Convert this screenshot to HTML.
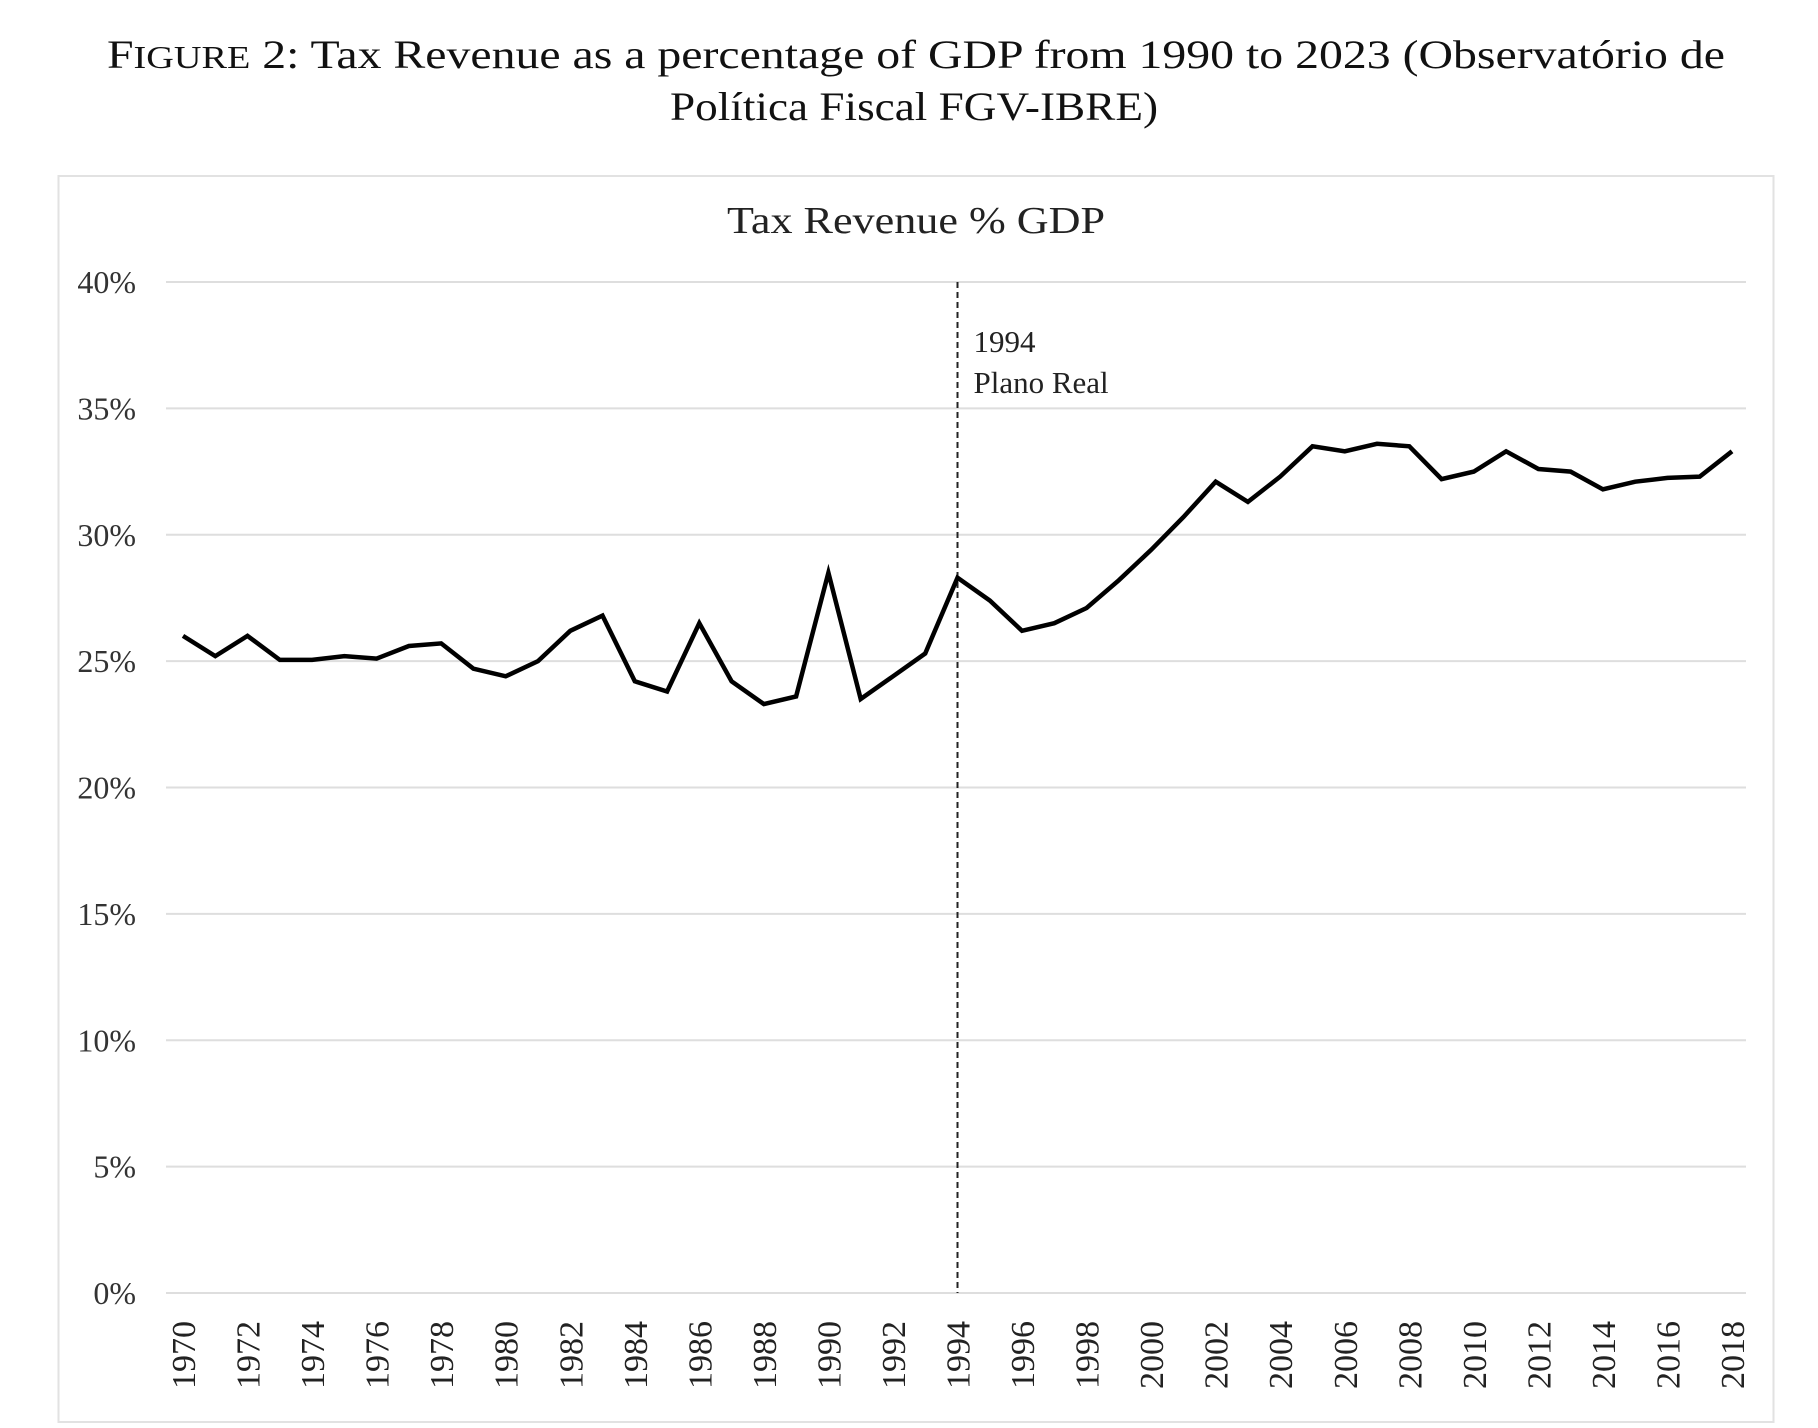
<!DOCTYPE html>
<html><head><meta charset="utf-8"><style>
html,body{margin:0;padding:0;background:#fff;}
svg{display:block;font-family:"Liberation Serif",serif;}
</style></head><body>
<svg id="chart" width="1818" height="1428" viewBox="0 0 1818 1428" xmlns="http://www.w3.org/2000/svg">
<text x="107" y="68" font-size="40" textLength="1618" lengthAdjust="spacingAndGlyphs" fill="#111">F<tspan font-size="32">IGURE</tspan> 2: Tax Revenue as a percentage of GDP from 1990 to 2023 (Observatório de</text>
<text x="670" y="120" font-size="40" textLength="488" lengthAdjust="spacingAndGlyphs" fill="#111">Política Fiscal FGV-IBRE)</text>
<rect x="58.5" y="176" width="1715" height="1246" fill="#fff" stroke="#e2e2e2" stroke-width="2"/>
<text x="727" y="233" font-size="38" textLength="378" lengthAdjust="spacingAndGlyphs" fill="#222">Tax Revenue % GDP</text>
<g id="grid"></g><g id="ylabels"></g><g id="xlabels"></g>
<line id="marker" stroke="#222" stroke-width="2" stroke-dasharray="6,4"/>
<text id="ann1" font-size="31" fill="#222">1994</text>
<text id="ann2" font-size="31" fill="#222">Plano Real</text>
<path id="series" fill="none" stroke="#000" stroke-width="4.5" stroke-linejoin="miter"/>
</svg>
<script>
const years = [1970,1971,1972,1973,1974,1975,1976,1977,1978,1979,1980,1981,1982,1983,1984,1985,1986,1987,1988,1989,1990,1991,1992,1993,1994,1995,1996,1997,1998,1999,2000,2001,2002,2003,2004,2005,2006,2007,2008,2009,2010,2011,2012,2013,2014,2015,2016,2017,2018];
const taxRevenue = [26.0,25.2,26.0,25.05,25.05,25.2,25.1,25.6,25.7,24.7,24.4,25.0,26.2,26.8,24.2,23.8,26.5,24.2,23.3,23.6,28.5,23.5,24.4,25.3,28.3,27.4,26.2,26.5,27.1,28.2,29.4,30.7,32.1,31.3,32.3,33.5,33.3,33.6,33.5,32.2,32.5,33.3,32.6,32.5,31.8,32.1,32.25,32.3,33.3];
const yTicks = [0,5,10,15,20,25,30,35,40];
const xTickYears = [1970,1972,1974,1976,1978,1980,1982,1984,1986,1988,1990,1992,1994,1996,1998,2000,2002,2004,2006,2008,2010,2012,2014,2016,2018];
const markerYear = 1994;
const NS="http://www.w3.org/2000/svg";
const X=y=>183+(y-1970)*(1732-183)/48;
const Y=v=>1293-v*(1293-282)/40;
const grid=document.getElementById('grid'),yl=document.getElementById('ylabels'),xl=document.getElementById('xlabels');
yTicks.forEach(t=>{
  const l=document.createElementNS(NS,'line');
  
  
  l.setAttribute('x1',166);l.setAttribute('x2',1746);l.setAttribute('y1',Y(t));l.setAttribute('y2',Y(t));
  l.setAttribute('stroke','#dedede');l.setAttribute('stroke-width','2');grid.appendChild(l);
  const tx=document.createElementNS(NS,'text');
  
  
  tx.setAttribute('x',136);tx.setAttribute('y',Y(t)+11);tx.setAttribute('text-anchor','end');
  tx.setAttribute('font-size','32');tx.setAttribute('fill','#333');tx.textContent=t+'%';yl.appendChild(tx);
});
xTickYears.forEach(yr=>{
  const tx=document.createElementNS(NS,'text');
  
  
  const x=X(yr)+12,y=1321;
  tx.setAttribute('x',x);tx.setAttribute('y',y);tx.setAttribute('text-anchor','end');
  tx.setAttribute('transform',`rotate(-90 ${x} ${y})`);
  tx.setAttribute('font-size','34');tx.setAttribute('fill','#222');tx.textContent=yr;xl.appendChild(tx);
});
const m=document.getElementById('marker');
m.setAttribute('x1',X(markerYear));m.setAttribute('x2',X(markerYear));m.setAttribute('y1',Y(40));m.setAttribute('y2',Y(0));
const a1=document.getElementById('ann1'),a2=document.getElementById('ann2');
a1.setAttribute('x',X(markerYear)+16);a1.setAttribute('y',352);
a2.setAttribute('x',X(markerYear)+16);a2.setAttribute('y',393);
document.getElementById('series').setAttribute('d',years.map((y,i)=>(i?'L':'M')+X(y).toFixed(1)+','+Y(taxRevenue[i]).toFixed(1)).join(' '));
</script>
</body></html>
